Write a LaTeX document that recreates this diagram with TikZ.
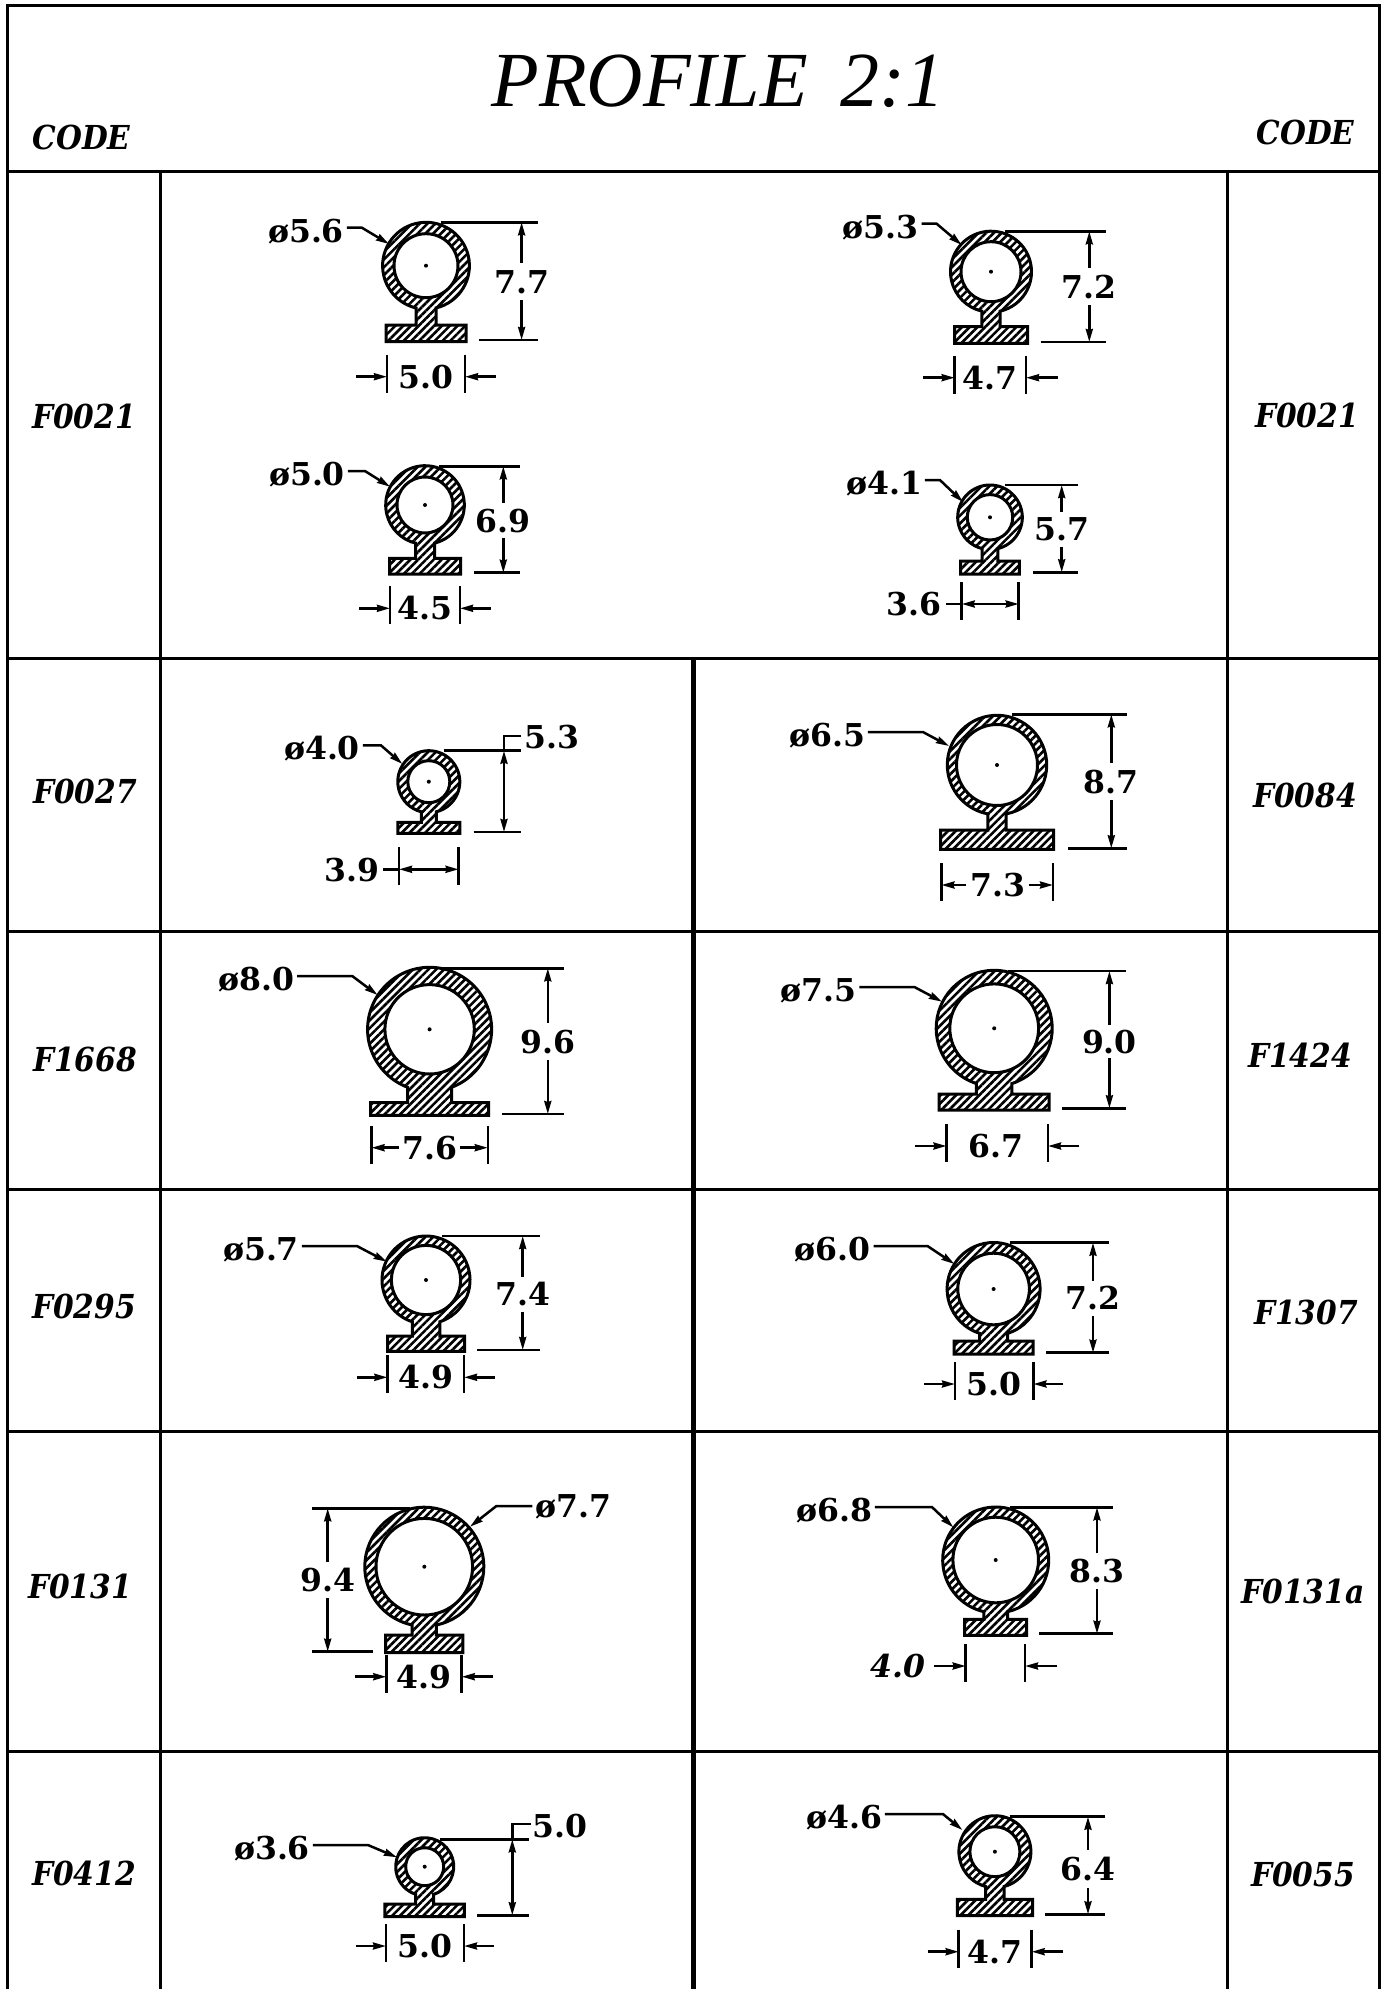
\documentclass[tikz,border=0pt]{standalone}
\usepackage{fontspec}
\usetikzlibrary{arrows.meta, patterns.meta}

\newfontfamily\dimfont{DejaVu Serif}
\newfontfamily\codefont[FakeStretch=0.9]{DejaVu Serif}
\newfontfamily\titlefont{Liberation Serif}

\tikzset{
    gridline/.style={line width=3pt},
    hatched/.style={line width=3pt, even odd rule,
                    pattern={Lines[angle=45,distance=5.5pt,line width=2.6pt]}},
    dimline/.style={line width=2.5pt},
    dimtext/.style={inner sep=0pt, outer sep=3pt, text height=23pt, text depth=0pt,
                    font=\fontsize{31.5}{32}\dimfont\bfseries},
    codetext/.style={inner sep=0pt, text height=24pt, text depth=0pt,
                     font=\fontsize{33}{33}\codefont\bfseries\itshape}
}

% cx, cy, R, r, stem width, foot width, foot top, foot bottom
\newcommand{\sealring}[8]{
    \pgfmathsetmacro{\sealang}{asin(#5/2/#3)}
    \pgfmathsetmacro{\sealcos}{#3*cos(\sealang)}
    \draw[hatched] ({#1+#5/2},{#2+\sealcos})
        arc[start angle=-90+\sealang, end angle=270-\sealang, radius=#3pt]
        -- ({#1-#5/2},#7) -- ({#1-#6/2},#7) -- ({#1-#6/2},#8)
        -- ({#1+#6/2},#8) -- ({#1+#6/2},#7) -- ({#1+#5/2},#7) -- cycle
        (#1,#2) circle[radius=#4pt];
    \fill (#1,#2) circle[radius=2pt];
}
% arrow x, y top, y bottom, x top from, x bottom from, x end, gap top, gap bottom
\newcommand{\heightdim}[8]{
    \draw[dimline] (#4,#2) -- (#6,#2);
    \draw[dimline] (#5,#3) -- (#6,#3);
    \draw[dimline,->] (#1,#7) -- (#1,#2);
    \draw[dimline,->] (#1,#8) -- (#1,#3);
}
% x left, x right, y, tail of left arrow, tail of right arrow
\newcommand{\widthdim}[5]{
    \draw[dimline] (#1,{#3-22}) -- (#1,{#3+16});
    \draw[dimline] (#2,{#3-22}) -- (#2,{#3+16});
    \draw[dimline,->] (#4,#3) -- (#1,#3);
    \draw[dimline,->] (#5,#3) -- (#2,#3);
}
% label node, length of the level part, tip x, tip y
\newcommand{\leaderline}[4]{
    \draw[dimline,->] ([yshift=3pt]#1.east) -- ++(#2,0) -- (#3,#4);
}

\begin{document}
\begin{tikzpicture}[x=1pt, y=-1pt, >={Stealth[length=13pt,width=7pt,inset=1pt]}]
\useasboundingbox (0,0) rectangle (1381,1989);

% table
\draw[gridline] (7.5,1989) -- (7.5,5.5) -- (1379,5.5) -- (1379,1989);
\draw[gridline] (7.5,171) -- (1379,171);
\draw[gridline] (7.5,658) -- (1379,658);
\draw[gridline] (7.5,931) -- (1379,931);
\draw[gridline] (7.5,1189.5) -- (1379,1189.5);
\draw[gridline] (7.5,1431) -- (1379,1431);
\draw[gridline] (7.5,1751) -- (1379,1751);
\draw[gridline] (160,171) -- (160,1989);
\draw[gridline] (1227,171) -- (1227,1989);
\draw[line width=5pt] (693.5,658) -- (693.5,1989);

% headings
\node (title) at (718,80) [inner sep=0pt, text height=53pt, text depth=0pt,
    font=\fontsize{78}{78}\titlefont\itshape] {PROFILE\hspace{0.42em}2:1};
\node (codeL) at (81.5,137.5) [codetext] {CODE};
\node (codeR) at (1305.5,132.5) [codetext] {CODE};

\node (rowA) at (84,416) [codetext] {F0021};
\node (rowB) at (85,791) [codetext] {F0027};
\node (rowC) at (85,1059) [codetext] {F1668};
\node (rowD) at (84,1306) [codetext] {F0295};
\node (rowE) at (80,1586) [codetext] {F0131};
\node (rowF) at (84,1873) [codetext] {F0412};
\node (rowA2) at (1307,415) [codetext] {F0021};
\node (rowB2) at (1305,795) [codetext] {F0084};
\node (rowC2) at (1300,1055) [codetext] {F1424};
\node (rowD2) at (1306,1312) [codetext] {F1307};
\node (rowE2) at (1303,1591) [codetext] {F0131a};
\node (rowF2) at (1303,1874) [codetext] {F0055};

% F0021, upper left
\sealring{426}{265.7}{43.4}{32}{20}{80}{325}{341.5}
\heightdim{521.6}{222.3}{340}{440.6}{478.5}{538}{263}{300}
\widthdim{387}{465}{376.7}{356}{496}
\node (hA) at (521.6,281.5) [dimtext] {7.7};
\node (wA) at (426,376.7) [dimtext] {5.0};
\node (dA) at (306,230.7) [dimtext] {ø5.6};
\leaderline{dA}{15}{389}{244}

% F0021, upper right
\sealring{991}{271.7}{40.5}{30}{18.3}{73}{326.7}{343.3}
\heightdim{1089.3}{231.3}{342}{1005}{1040.7}{1106}{268}{305}
\widthdim{954.7}{1026}{377.7}{923.3}{1057.7}
\node (hB) at (1089.3,286.5) [dimtext] {7.2};
\node (wB) at (990,377.7) [dimtext] {4.7};
\node (dB) at (880.7,226.7) [dimtext] {ø5.3};
\leaderline{dB}{15}{961.7}{245}

% F0021, lower left
\sealring{425}{505}{39.3}{28}{19}{71}{558.3}{574}
\heightdim{503.3}{466.3}{572.7}{439}{474}{520}{503}{538}
\widthdim{390}{460}{608.3}{359}{490.6}
\node (hC) at (503.3,520.5) [dimtext] {6.9};
\node (wC) at (425,608.3) [dimtext] {4.5};
\node (dC) at (307,474) [dimtext] {ø5.0};
\leaderline{dC}{17}{390}{486.7}

% F0021, lower right
\sealring{990}{517.3}{32.3}{22.7}{15.7}{58.6}{561}{574}
\heightdim{1061.7}{485}{572.3}{1005}{1032.7}{1078}{511.7}{546.7}
\widthdim{961.7}{1018.7}{604}{990}{990}
\draw[dimline] (945.7,604) -- (961.7,604);
\node (hD) at (1061.7,529) [dimtext] {5.7};
\node (wD) at (914,604) [dimtext] {3.6};
\node (dD) at (884,483) [dimtext] {ø4.1};
\leaderline{dD}{15}{963}{502}

% F0027
\sealring{428.8}{781.7}{31}{21}{15}{62}{822.3}{833.3}
\heightdim{504}{750.7}{832}{443.7}{473.5}{521}{790}{790}
\draw[dimline] (504,750.7) -- (504,736) -- (521,736);
\widthdim{399}{458.6}{869.3}{429}{429}
\draw[dimline] (383.4,869.3) -- (399,869.3);
\node (hE) at (551.6,736.7) [dimtext] {5.3};
\node (wE) at (352,870) [dimtext] {3.9};
\node (dE) at (322,748.3) [dimtext] {ø4.0};
\leaderline{dE}{18}{402.4}{764}

% F0084
\sealring{997}{765}{49.7}{40.5}{18.4}{113}{830}{849.3}
\heightdim{1111.3}{714.3}{848.3}{1012}{1068}{1127}{763}{800}
\widthdim{941.4}{1053}{885}{966}{1029}
\node (hF) at (1111.3,781.5) [dimtext] {8.7};
\node (wF) at (997.7,885) [dimtext] {7.3};
\node (dF) at (827,735) [dimtext] {ø6.5};
\leaderline{dF}{55}{949}{746}

% F1668
\sealring{429.6}{1029.3}{62}{44.7}{44}{118}{1102.7}{1115.3}
\heightdim{547.8}{968.3}{1114}{442}{502}{564.4}{1023}{1060}
\widthdim{371.5}{487.8}{1147.7}{399}{460}
\node (hG) at (547.8,1041.5) [dimtext] {9.6};
\node (wG) at (429.6,1147.7) [dimtext] {7.6};
\node (dG) at (256.3,979) [dimtext] {ø8.0};
\leaderline{dG}{55}{377.6}{995}

% F1424
\sealring{994.2}{1028.3}{58}{44.4}{35.5}{110}{1094}{1110}
\heightdim{1109.4}{971}{1108.3}{1008}{1062}{1126}{1025}{1058}
\widthdim{946.5}{1048}{1146}{914.6}{1079.4}
\node (hH) at (1109.4,1041.5) [dimtext] {9.0};
\node (wH) at (996,1146) [dimtext] {6.7};
\node (dH) at (818.5,990) [dimtext] {ø7.5};
\leaderline{dH}{55}{942}{1001.7}

% F0295
\sealring{426}{1280}{44}{34.6}{27.5}{77}{1336}{1351.3}
\heightdim{522.7}{1236}{1350}{442}{477.4}{540}{1276.7}{1311.7}
\widthdim{387.4}{464}{1377.3}{356.8}{495}
\node (hI) at (522.7,1294) [dimtext] {7.4};
\node (wI) at (426,1377.3) [dimtext] {4.9};
\node (dI) at (261,1249) [dimtext] {ø5.7};
\leaderline{dI}{55}{386.8}{1261.7}

% F1307
\sealring{993.6}{1289}{46.5}{35.8}{28}{79}{1341}{1354}
\heightdim{1093}{1242.7}{1352.7}{1009.5}{1046}{1109.4}{1280.7}{1316}
\widthdim{955}{1033.4}{1384}{923.8}{1063.4}
\node (hJ) at (1093,1298.3) [dimtext] {7.2};
\node (wJ) at (994,1384) [dimtext] {5.0};
\node (dJ) at (832.6,1249) [dimtext] {ø6.0};
\leaderline{dJ}{54}{954.4}{1264}

% F0131
\sealring{424.3}{1566.7}{59.5}{48.3}{24.3}{77.3}{1635}{1652.7}
\heightdim{327.7}{1508.3}{1651.7}{410}{372.7}{311.7}{1561.7}{1598.3}
\widthdim{386.3}{461.7}{1676.7}{355}{493.3}
\node (hK) at (327.7,1580) [dimtext] {9.4};
\node (wK) at (424.3,1676.7) [dimtext] {4.9};
\node (dK) at (573.3,1506) [dimtext] {ø7.7};
\draw[dimline,->] (dK.west) -- ++(-36,0) -- (470,1526.7);

% F0131a
\sealring{995.7}{1560}{53}{42.8}{23.7}{62}{1619.3}{1635.3}
\heightdim{1097}{1507.3}{1633.7}{1010}{1039.3}{1113.3}{1553.3}{1589.3}
\widthdim{965.7}{1025}{1666}{934}{1056.7}
\node (hL) at (1097,1571.3) [dimtext] {8.3};
\node (wL) at (897.7,1666) [dimtext, font=\fontsize{31.5}{32}\dimfont\bfseries\itshape] {4.0};
\node (dL) at (834,1510) [dimtext] {ø6.8};
\leaderline{dL}{57}{953.3}{1527.3}

% F0412
\sealring{424.7}{1866.7}{29}{19}{18}{79.5}{1904}{1916.7}
\heightdim{512.3}{1839.3}{1915.3}{440}{477.4}{528.8}{1878}{1878}
\draw[dimline] (512.3,1839.3) -- (512.3,1824) -- (530.7,1824);
\widthdim{386}{464}{1946}{355.5}{494}
\node (hM) at (560,1826) [dimtext] {5.0};
\node (wM) at (424.7,1946) [dimtext] {5.0};
\node (dM) at (272,1848) [dimtext] {ø3.6};
\leaderline{dM}{55}{397}{1857.3}

% F0055
\sealring{994.9}{1851.7}{36}{25}{18.4}{75.3}{1899.3}{1915.7}
\heightdim{1088}{1816.7}{1914.3}{1009.5}{1045}{1104.5}{1850}{1888.3}
\widthdim{958.7}{1031.6}{1951.7}{927.5}{1063.4}
\node (hN) at (1088,1869) [dimtext] {6.4};
\node (wN) at (995,1951.7) [dimtext] {4.7};
\node (dN) at (844,1817) [dimtext] {ø4.6};
\leaderline{dN}{58}{962.4}{1830}
\end{tikzpicture}
\end{document}
